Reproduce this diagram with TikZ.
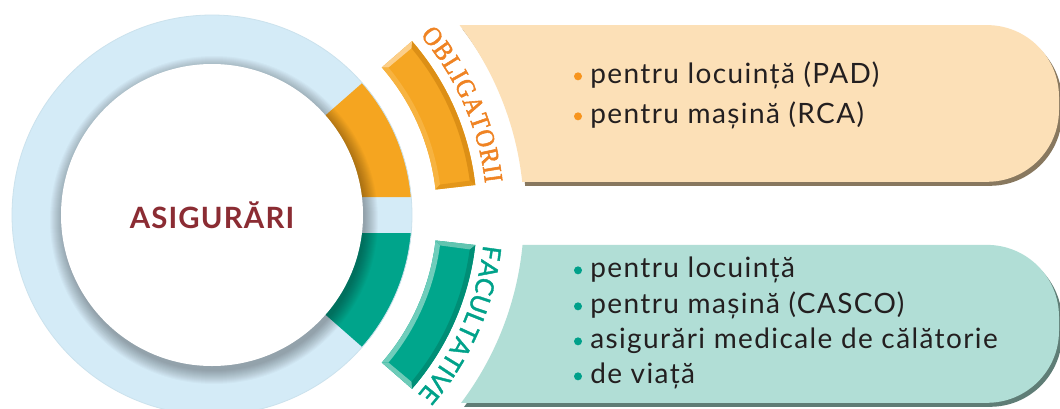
\documentclass[tikz,border=0pt]{standalone}
\usepackage{fontspec}
\setmainfont{Lato}
\newfontfamily\itemfont{Lato}[LetterSpace=5]
\newfontfamily\capfont{Lato}[LetterSpace=4]
\newfontfamily\facfont{Lato}[FakeBold=1.5]
\newfontfamily\obfont{Liberation Serif}[FakeBold=2,FakeStretch=0.9]
\usetikzlibrary{decorations.text}

\definecolor{ringblue}{HTML}{D4EBF7}
\definecolor{ringor}{HTML}{F5A520}
\definecolor{ringteal}{HTML}{00A48B}
\definecolor{obtext}{HTML}{EF8323}
\definecolor{fatext}{HTML}{00A28A}
\definecolor{obbox}{HTML}{FCE0B7}
\definecolor{obshade}{HTML}{88785F}
\definecolor{fabox}{HTML}{B1DED6}
\definecolor{fashade}{HTML}{5F7D76}
\definecolor{asig}{HTML}{8B2C33}
\definecolor{bodytext}{HTML}{231F20}
\definecolor{obdot}{HTML}{F7941D}
\definecolor{fadot}{HTML}{00A08A}
% bevel colours
\definecolor{obmain}{HTML}{F5A623}
\definecolor{obout}{HTML}{DC8F16}
\definecolor{obin}{HTML}{F7B340}
\definecolor{obcapa}{HTML}{E3961A}
\definecolor{obcapb}{HTML}{FCCF8A}
\definecolor{famain}{HTML}{00A68C}
\definecolor{faout}{HTML}{008E76}
\definecolor{fain}{HTML}{6FCDBB}
\definecolor{facapa}{HTML}{62C4B0}
\definecolor{facapb}{HTML}{6ECBB8}

\tikzset{
  item/.style={font={\fontsize{21}{25}\itemfont}, text=bodytext, anchor=base west, inner sep=0pt},
  title/.style={font={\fontsize{22}{22}\capfont\bfseries}, text=asig, inner sep=0pt}
}

% one bevelled arc piece: a1, a2, inset b1, b2, colour prefix
\newcommand\bevelpiece[5]{%
  \fill[#5main] (#1:225) arc[start angle=#1,end angle=#2,radius=225] -- (#2:265) arc[start angle=#2,end angle=#1,radius=265] -- cycle;
  \fill[#5out] (#1:265) arc[start angle=#1,end angle=#2,radius=265] -- (#4:260) arc[start angle=#4,end angle=#3,radius=260] -- cycle;
  \fill[#5in] (#1:225) arc[start angle=#1,end angle=#2,radius=225] -- (#4:230) arc[start angle=#4,end angle=#3,radius=230] -- cycle;
  \fill[#5capb] (#2:225) -- (#2:265) -- (#4:260) -- (#4:230) -- cycle;
  \fill[#5capa] (#1:225) -- (#1:265) -- (#3:260) -- (#3:230) -- cycle;
}

\begin{document}
\begin{tikzpicture}[x=0.75pt,y=0.75pt]
  \fill[white] (-212,-193) rectangle (848,215);
  \useasboundingbox (-212,-193) rectangle (848,215);

  % boxes
  \fill[obshade, shift={(3,-4)}] (6.1:312) -- (775,33.2) arc[start angle=-90,end angle=0,radius=72]
    -- (847,117.9) arc[start angle=0,end angle=90,radius=72] -- (37.5:312)
    arc[start angle=37.5,end angle=6.1,radius=312] -- cycle;
  \fill[obbox] (6.1:312) -- (775,33.2) arc[start angle=-90,end angle=0,radius=72]
    -- (847,117.9) arc[start angle=0,end angle=90,radius=72] -- (37.5:312)
    arc[start angle=37.5,end angle=6.1,radius=312] -- cycle;
  \fill[fashade, shift={(3,-4)}] (-37:312) -- (775,-187.8) arc[start angle=-90,end angle=0,radius=72]
    -- (847,-101.9) arc[start angle=0,end angle=90,radius=72] -- (-5.5:312)
    arc[start angle=-5.5,end angle=-37,radius=312] -- cycle;
  \fill[fabox] (-37:312) -- (775,-187.8) arc[start angle=-90,end angle=0,radius=72]
    -- (847,-101.9) arc[start angle=0,end angle=90,radius=72] -- (-5.5:312)
    arc[start angle=-5.5,end angle=-37,radius=312] -- cycle;

  % ring
  \fill[ringblue] (0,0) circle (200);
  \fill[ringor] (0,18) -- (199.2,18) arc[start angle=5.16,end angle=41.3,radius=200] -- (0,0) -- cycle;
  \fill[ringteal] (0,-18) -- (199.2,-18) arc[start angle=-5.16,end angle=-41.3,radius=200] -- (0,0) -- cycle;
  \draw[ringblue!80!black!20!ringblue, line width=0.6pt] (0,0) circle (200);
  \foreach \k in {1,...,14}
    \fill[black, opacity=0.025] (2,-5) circle (150+\k);
  \fill[white] (0,0) circle (151);

  \bevelpiece{6.5}{41}{7.6}{39.9}{ob}
  \bevelpiece{-6.5}{-41}{-7.6}{-39.9}{fa}

  % arc labels
  \path[decorate, decoration={text along path, text align={fit to path},
      text={|\fontsize{20}{20}\obfont\color{obtext}|OBLIGATORII}}]
    (40.8:275) arc[start angle=40.8,end angle=6.6,radius=275];
  \path[decorate, decoration={text along path, text align={fit to path},
      text={|\fontsize{19}{19}\facfont\color{fatext}|FACULTATIVE}}]
    (-6.3:273) arc[start angle=-6.3,end angle=-40.6,radius=273];

  \node[title] (center) at (0,0) {ASIGURĂRI};

  % items
  \node[item] (ob1) at (378,132) {pentru locuință (PAD)};
  \node[item] (ob2) at (378,92) {pentru mașină (RCA)};
  \node[item] (fa1) at (378,-62) {pentru locuință};
  \node[item] (fa2) at (378,-98) {pentru mașină (CASCO)};
  \node[item] (fa3) at (378,-133) {asigurări medicale de călătorie};
  \node[item] (fa4) at (378,-168) {de viață};
  \fill[obdot] ([xshift=-9pt,yshift=5pt]ob1.base west) circle (3pt);
  \fill[obdot] ([xshift=-9pt,yshift=5pt]ob2.base west) circle (3pt);
  \fill[fadot] ([xshift=-9pt,yshift=5pt]fa1.base west) circle (3pt);
  \fill[fadot] ([xshift=-9pt,yshift=5pt]fa2.base west) circle (3pt);
  \fill[fadot] ([xshift=-9pt,yshift=5pt]fa3.base west) circle (3pt);
  \fill[fadot] ([xshift=-9pt,yshift=5pt]fa4.base west) circle (3pt);
\end{tikzpicture}
\end{document}
